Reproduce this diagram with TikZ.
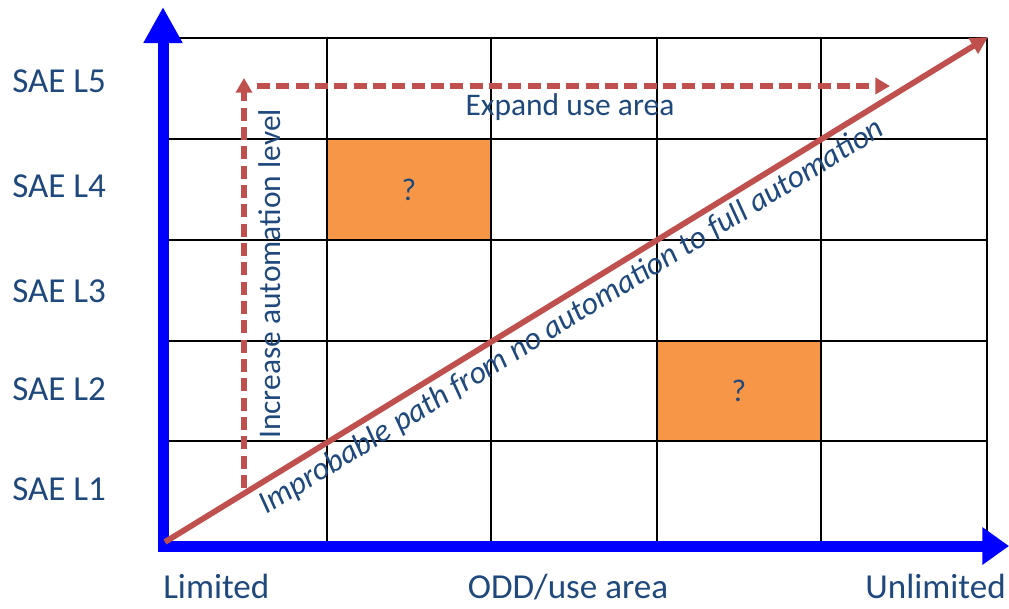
\documentclass[tikz,border=0pt]{standalone}
\usepackage{fontspec}
\setmainfont{Carlito}
\usetikzlibrary{arrows.meta}
\definecolor{txt}{HTML}{1F497D}
\definecolor{redc}{HTML}{C0504D}
\definecolor{orangec}{HTML}{F79646}
\definecolor{axisblue}{HTML}{0000FF}
\begin{document}
\begin{tikzpicture}[x=0.75pt,y=-0.75pt,
  gridline/.style={draw=black,line width=1.1pt},
  axisline/.style={draw=axisblue,line width=8.25pt,line join=miter,
     {Triangle[length=27pt,width=27.5pt]}-{Triangle[length=20pt,width=27pt]}},
  redline/.style={draw=redc,line width=4.3pt,-{Triangle[length=13pt,width=13pt]}},
  dashline/.style={draw=redc,line width=4.3pt,dash pattern=on 9.75pt off 4.75pt,
     -{Triangle[length=11pt,width=12pt]}},
  cell/.style={fill=orangec,minimum width=123pt,minimum height=75.75pt,inner sep=0pt,
     text=txt,font=\fontsize{23.6}{27}\selectfont},
  axlabel/.style={text=txt,font=\fontsize{26.3}{30}\selectfont,inner sep=0pt},
  inlabel/.style={text=txt,font=\fontsize{23.6}{27}\selectfont,inner sep=0pt},
  diaglabel/.style={text=txt,font=\fontsize{24}{28}\selectfont\itshape,inner sep=0pt}]
\useasboundingbox (0,0) rectangle (1009,608);
% orange cells
\node[cell] (q1) at (409,189.5) {?};
\node[cell] (q2) at (739,391) {?};
% grid
\foreach \x in {327,491,657,821,987} \draw[gridline] (\x,38) -- (\x,543);
\foreach \y in {38,139,240,341,441} \draw[gridline] (163,\y) -- (987,\y);
% axes
\coordinate (ytip) at (163,7);
\coordinate (origin) at (163,546);
\coordinate (xtip) at (1009,546);
\draw[axisline] (ytip) -- (origin) -- (xtip);
% dashed arrows
\coordinate (vd0) at (244,488);
\coordinate (vd1) at (244,78);
\coordinate (hd0) at (257,86);
\coordinate (hd1) at (890,86);
\draw[dashline] (vd0) -- (vd1);
\draw[dashline] (hd0) -- (hd1);
% diagonal
\coordinate (d0) at (165,542);
\coordinate (d1) at (988,37);
\draw[redline] (d0) -- (d1);
\node[diaglabel,rotate=31.6] (dt) at (572,317) {Improbable path from no automation to full automation};
% labels
\node[axlabel,anchor=base west] (l5) at (12,92) {SAE L5};
\node[axlabel,anchor=base west] (l4) at (12,197) {SAE L4};
\node[axlabel,anchor=base west] (l3) at (12,302) {SAE L3};
\node[axlabel,anchor=base west] (l2) at (12,400) {SAE L2};
\node[axlabel,anchor=base west] (l1) at (12,500) {SAE L1};
\node[axlabel,anchor=base west] (lim) at (163,598) {Limited};
\node[axlabel,anchor=base] (odd) at (568,598) {ODD/use area};
\node[axlabel,anchor=base east] (unl) at (1006,598) {Unlimited};
\node[inlabel,anchor=base] (exp) at (570,115) {Expand use area};
\node[inlabel,rotate=90] (inc) at (270,274) {Increase automation level};
\end{tikzpicture}
\end{document}
